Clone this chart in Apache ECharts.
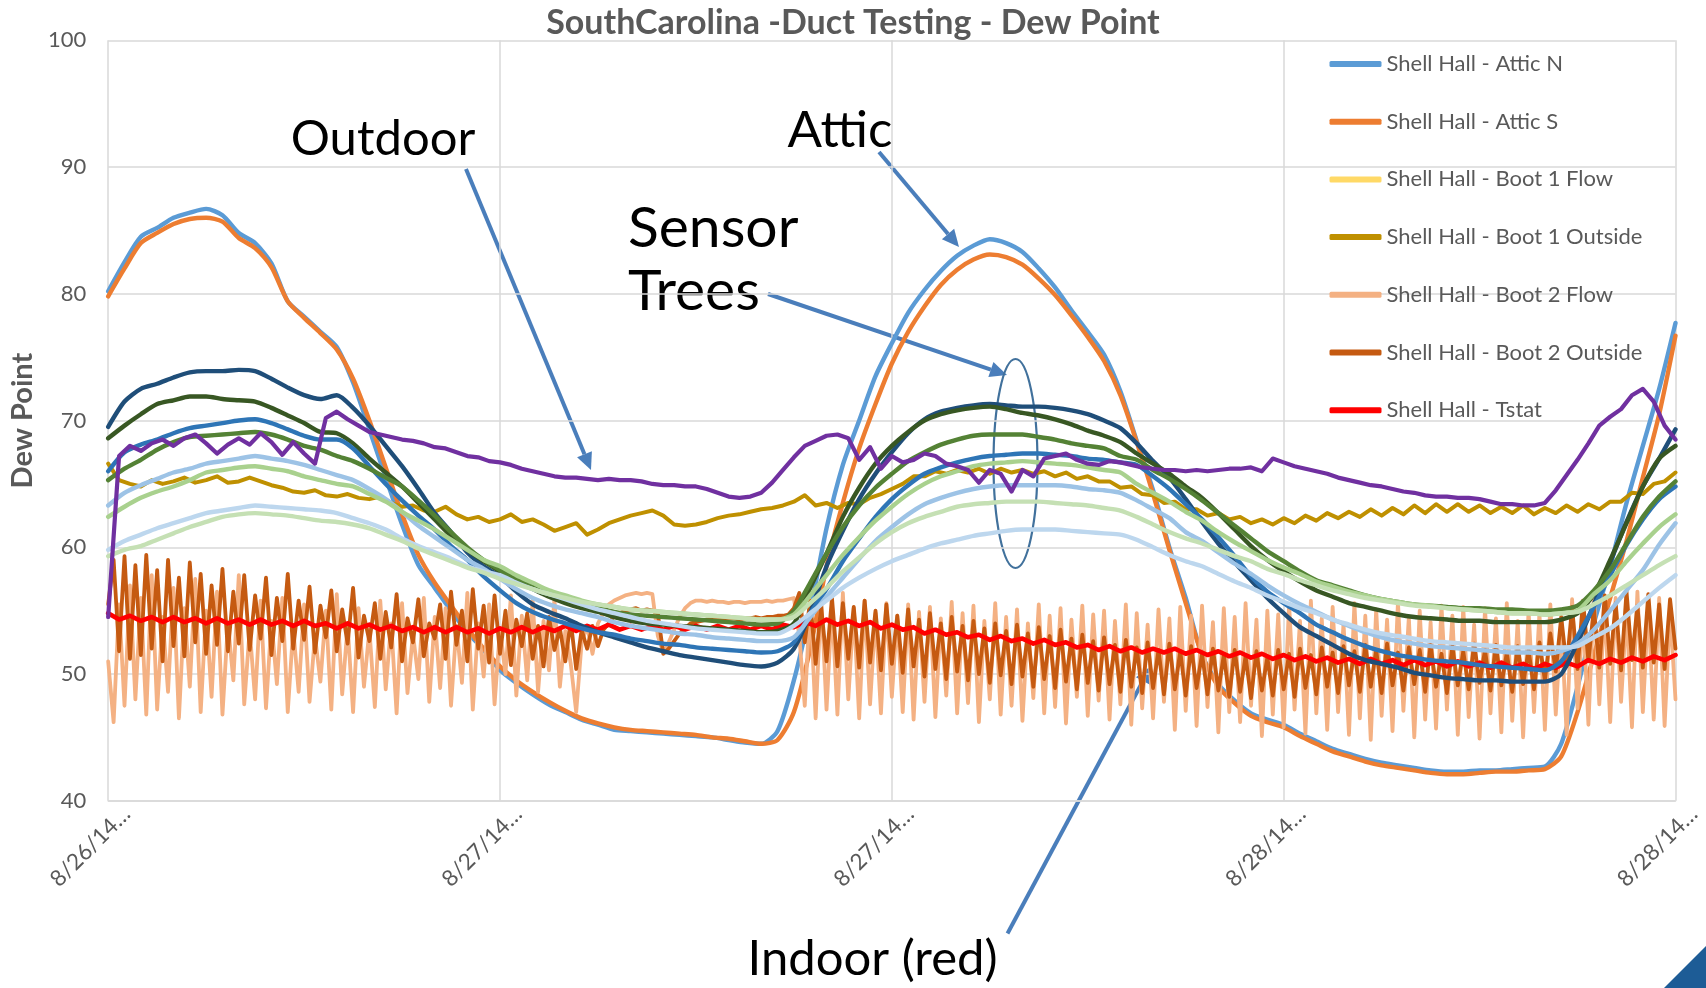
<!DOCTYPE html>
<html>
<head>
<meta charset="utf-8">
<script src="https://cdn.jsdelivr.net/npm/echarts@6/dist/echarts.min.js"></script>
<style>html,body{margin:0;padding:0;background:#fff}#c{width:1706px;height:988px}</style>
</head>
<body>
<div id="c"></div>
<script>
// ---------- DATA ----------
const chartTitle = 'SouthCarolina -Duct Testing - Dew Point';
const yAxisName = 'Dew Point';
const xTickLabels = ['8/26/14…', '8/27/14…', '8/27/14…', '8/28/14…', '8/28/14…'];
const legendNames = ['Shell Hall - Attic N', 'Shell Hall - Attic S', 'Shell Hall - Boot 1 Flow',
  'Shell Hall - Boot 1 Outside', 'Shell Hall - Boot 2 Flow', 'Shell Hall - Boot 2 Outside', 'Shell Hall - Tstat'];

// sampling steps (hours between readings) of each recorded series
const step30 = 0.5, step20 = 1 / 3, step10 = 1 / 6;

// Attic N / S (every 30 min)
const atticN = [80.2,82.5,84.5,85.2,86.0,86.4,86.7,86.2,84.8,84.0,
  82.4,79.4,78.2,77.0,75.8,73.0,69.3,65.5,61.8,58.6,
  56.8,55.0,53.3,51.9,50.3,49.3,48.4,47.6,47.0,46.4,
  46.0,45.6,45.5,45.4,45.3,45.2,45.1,45.0,44.8,44.6,
  44.5,45.5,49.5,55.0,61.5,66.5,70.0,73.5,76.1,78.5,
  80.3,81.8,83.0,83.8,84.3,84.0,83.3,82.0,80.5,78.7,
  77.0,75.2,72.3,68.4,64.5,60.0,56.0,51.5,49.2,47.9,
  46.9,46.4,46.0,45.3,44.7,44.1,43.7,43.3,43.0,42.8,
  42.6,42.4,42.3,42.3,42.4,42.4,42.5,42.6,42.7,44.5,
  49.0,54.0,58.5,63.5,68.0,72.5,77.7];
const atticS = [79.8,82.0,84.0,84.8,85.5,85.9,86.0,85.7,84.4,83.6,
  82.1,79.4,78.1,76.9,75.6,73.3,70.0,66.3,62.6,59.4,
  57.2,55.4,53.6,52.0,50.6,49.5,48.6,47.8,47.1,46.5,
  46.1,45.8,45.6,45.5,45.4,45.3,45.2,45.0,44.9,44.7,
  44.5,44.8,47.0,52.0,58.5,63.5,67.8,71.3,74.5,77.0,
  79.0,80.7,81.9,82.7,83.1,82.9,82.3,81.2,79.9,78.3,
  76.6,74.7,72.0,68.3,64.2,59.8,55.6,51.5,49.0,47.7,
  46.7,46.2,45.8,45.1,44.5,43.9,43.5,43.1,42.8,42.6,
  42.4,42.2,42.1,42.1,42.2,42.3,42.3,42.4,42.5,43.5,
  47.0,51.5,56.0,60.5,65.5,70.5,76.7];

// Boot 1 Flow: no trace visible in the chart
const boot1Flow = [];

// Boot 1 Outside (every 20 min)
const boot1Outside = [66.6,65.3,65.0, 64.8,65.3,65.0, 65.2,65.5,65.1, 65.3,65.6,65.1, 65.2,65.5,65.2,
  64.9,64.7,64.4, 64.3,64.5,64.1, 64.0,64.2,63.9, 63.8,64.0,63.5, 63.2,63.3,62.9,
  62.8,63.2,62.6, 62.2,62.4,62.0, 62.2,62.6,62.0, 62.2,61.8,61.3, 61.6,61.9,61.0,
  61.4,61.9,62.2, 62.5,62.7,62.9, 62.5,61.8,61.7, 61.8,62.0,62.3, 62.5,62.6,62.8,
  63.0,63.1,63.3, 63.6,64.1,63.3, 63.5,63.1,63.5, 63.4,63.9,64.2, 64.6,65.0,65.6,
  65.6,66.0,65.8, 66.1,65.9,66.2, 65.8,66.2,65.9, 66.1,65.8,66.0, 65.6,65.9,65.4,
  65.6,65.2,65.2, 64.7,64.8,64.2, 64.1,63.5,63.6, 63.0,63.0,62.5, 62.7,62.2,62.4,
  61.9,62.2,61.8, 62.3,61.9,62.5, 62.1,62.7,62.3, 62.8,62.4,63.0, 62.5,63.1,62.6,
  63.3,62.7,63.4, 62.8,63.4,62.8, 63.3,62.7,63.2, 62.7,63.3,62.6, 63.1,62.7,63.3,
  62.8,63.4,63.0, 63.6,63.6,64.3, 64.2,65.0,65.2, 65.9];

// Boot 2 Flow (every 10 min)
const boot2Flow = [51.0,46.2,55.5,47.5,57.0,48.0, 56.0,46.8,57.8,47.2,54.5,48.6,
  56.8,46.5,55.2,49.0,57.5,47.0, 55.0,48.2,56.5,46.8,54.0,49.5,
  57.8,47.6,53.5,48.0,55.8,47.3, 54.2,49.2,56.0,47.0,53.6,48.6,
  55.5,47.8,53.0,49.4,55.0,47.2, 56.3,48.4,53.8,47.0,55.2,49.0,
  53.5,47.4,55.8,48.8,54.0,46.9, 55.6,48.5,53.2,49.6,56.0,47.8,
  54.5,48.9,55.2,47.5,53.8,49.3, 56.4,47.2,54.0,49.8,55.5,47.6,
  53.6,50.0,56.2,48.3,54.6,49.5, 55.8,48.6,54.2,50.3,55.9,49.0,
  53.4,50.8,47.0,52.5,53.8,51.6, 54.0,54.8,55.5,55.8,56.0,56.2,
  56.3,56.4,56.3,56.4,56.3,53.0, 51.7,52.5,53.5,54.5,55.2,55.6,
  55.8,55.8,55.7,55.8,55.7,55.7, 55.6,55.7,55.7,55.6,55.7,55.7,
  55.7,55.8,55.7,55.8,55.8,55.9, 56.0,53.0,47.5,55.8,46.5,56.2,
  47.2,55.5,46.8,56.4,48.0,55.2, 46.5,55.8,47.6,54.8,46.9,55.6,
  48.2,54.6,47.0,55.5,46.4,54.9, 47.8,55.3,46.6,54.4,48.3,55.7,
  46.9,54.8,47.7,55.4,46.2,54.2, 48.0,55.6,46.8,54.5,47.5,55.1,
  46.3,54.0,48.1,55.5,46.9,54.6, 47.4,55.2,46.1,54.3,48.2,55.4,
  46.7,54.7,47.9,55.0,46.4,54.2, 47.6,55.5,46.0,54.8,47.3,53.9,
  46.5,55.1,47.8,54.4,45.6,55.3, 47.1,54.6,45.9,55.4,47.4,54.1,
  45.4,55.2,47.0,54.5,46.2,55.6, 47.5,54.3,45.1,55.0,46.8,54.7,
  45.8,55.5,47.2,54.2,45.3,55.8, 46.9,54.4,45.6,55.3,47.0,54.0,
  45.2,55.6,46.5,54.6,44.8,55.1, 46.7,54.3,45.5,55.7,47.1,54.5,
  45.0,55.0,46.4,54.1,45.7,55.4, 47.2,54.6,45.2,55.3,46.6,53.9,
  44.9,55.2,46.9,54.4,45.4,55.6, 46.3,54.2,45.0,55.0,47.0,54.8,
  45.6,55.5,46.8,54.3,45.2,55.9, 47.3,55.0,46.0,56.3,47.6,55.4,
  46.2,56.0,47.8,55.1,45.8,56.5, 47.0,55.3,46.4,56.0,45.9,55.0,
  48.0];

// Boot 2 Outside (every 10 min)
const boot2Outside = [55.5,59.0,51.8,59.3,51.2,58.6, 51.5,59.4,52.0,58.2,51.0,59.0,
  52.2,57.6,51.4,58.8,52.5,57.9, 51.6,57.0,52.3,58.3,51.8,56.5,
  52.4,57.8,51.9,56.2,52.8,57.6, 51.5,56.0,52.6,57.9,52.0,55.8,
  52.7,56.9,51.7,55.4,52.9,56.6, 51.8,55.1,52.4,56.8,51.3,54.6,
  52.6,55.6,51.2,54.9,52.1,56.3, 51.0,54.4,52.5,55.9,51.4,54.0,
  52.8,55.5,51.2,56.5,52.3,55.0, 51.0,56.7,52.0,55.4,50.9,56.2,
  51.6,55.0,50.7,54.3,52.2,54.8, 51.2,53.8,50.6,54.5,51.9,53.6,
  51.0,54.2,50.4,53.5,52.0,53.8, 52.2,53.5,54.0,54.6,54.8,55.0,
  55.1,55.2,55.0,55.1,55.0,54.8, 51.6,52.0,52.6,53.2,53.6,54.0,
  54.1,54.2,54.3,54.3,54.4,54.3, 54.4,54.4,54.3,54.4,54.4,54.5,
  54.4,54.5,54.5,54.6,54.6,54.7, 55.2,56.4,52.5,55.8,50.8,55.4,
  51.0,56.0,50.6,55.6,51.2,55.3, 50.5,55.8,50.9,55.0,50.3,55.5,
  50.8,54.6,50.1,55.1,50.6,54.3, 49.8,54.8,50.4,54.0,49.6,54.5,
  50.2,53.8,49.5,54.2,50.0,53.6, 49.3,54.0,49.9,53.4,49.2,53.9,
  49.8,53.2,49.0,53.7,49.6,53.0, 48.9,53.5,49.4,52.8,48.8,53.1,
  49.3,52.6,48.7,52.9,49.2,52.3, 48.6,52.7,49.0,52.1,48.5,52.5,
  48.9,51.9,48.4,52.4,48.8,51.8, 48.3,52.2,48.9,51.6,48.4,52.0,
  48.7,51.5,48.2,51.9,48.6,51.4, 48.1,51.8,48.7,51.3,48.3,51.9,
  48.8,51.6,48.2,52.0,48.9,51.5, 48.4,52.1,49.0,51.7,48.5,52.2,
  49.1,51.8,48.6,52.3,49.0,51.9, 48.5,52.4,49.1,51.7,48.7,52.1,
  49.2,51.9,48.6,52.3,49.0,51.6, 48.5,52.2,49.1,51.8,48.8,52.4,
  49.3,51.9,48.7,52.3,49.1,51.7, 48.6,52.2,49.2,51.9,48.8,52.5,
  49.5,53.2,50.2,54.5,50.6,55.3, 50.4,55.8,51.0,55.2,50.5,56.2,
  50.8,55.6,50.3,56.5,51.1,55.4, 50.5,56.3,50.9,55.5,50.4,55.9,
  52.0];

// Tstat (every 20 min)
const tstat = [54.8,54.3,54.6, 54.2,54.5,54.1, 54.5,54.1,54.4, 54.0,54.4,54.0, 54.3,53.9,54.3,
  53.9,54.2,53.8, 54.2,53.8,54.0, 53.6,54.0,53.6, 53.9,53.5,53.8, 53.4,53.7,53.3,
  53.7,53.3,53.7, 53.3,53.6,53.2, 53.6,53.3,53.7, 53.3,53.7,53.4, 53.8,53.4,53.8,
  53.5,53.9,53.5, 53.8,53.5,53.8, 53.5,53.8,53.5, 53.8,53.5,53.8, 53.5,53.8,53.5,
  53.8,53.5,53.9, 53.7,54.1,53.8, 54.3,53.9,54.2, 53.8,54.1,53.6, 53.9,53.5,53.7,
  53.2,53.5,53.1, 53.3,52.9,53.1, 52.7,53.0,52.6, 52.8,52.4,52.7, 52.3,52.5,52.1,
  52.3,51.9,52.2, 51.8,52.1,51.7, 52.0,51.7,52.0, 51.6,51.9,51.5, 51.8,51.4,51.7,
  51.3,51.6,51.2, 51.5,51.1,51.4, 51.0,51.3,50.9, 51.2,50.8,51.2, 50.8,51.1,50.7,
  51.1,50.7,51.0, 50.6,51.0,50.6, 50.9,50.5,50.9, 50.5,50.8,50.4, 50.8,50.5,50.9,
  50.6,51.1,50.8, 51.2,50.9,51.3, 51.0,51.4,51.1, 51.5];

// Outdoor (every 20 min)
const outdoor = [54.5,67.2,68.0, 67.6,68.2,68.5, 68.0,68.6,68.9, 68.2,67.4,68.1, 68.6,68.1,69.0,
  68.3,67.3,68.3, 67.4,66.6,70.2, 70.7,70.1,69.6, 69.1,68.9,68.7, 68.5,68.4,68.2,
  67.9,67.8,67.5, 67.2,67.1,66.8, 66.7,66.5,66.2, 66.0,65.8,65.6, 65.5,65.5,65.4,
  65.3,65.4,65.3, 65.3,65.2,65.0, 64.9,64.9,64.8, 64.8,64.6,64.3, 64.0,63.9,64.0,
  64.3,65.1,66.1, 67.1,68.0,68.4, 68.8,68.9,68.6, 66.9,67.9,66.2, 67.2,66.7,66.9,
  67.4,67.2,66.6, 66.4,66.1,65.1, 66.1,65.8,64.4, 66.1,65.6,67.0, 67.2,67.4,66.9,
  66.6,66.5,66.8, 66.7,66.5,66.3, 66.2,66.1,66.1, 66.0,66.1,66.0, 66.1,66.2,66.2,
  66.3,66.0,67.0, 66.7,66.4,66.2, 66.0,65.8,65.5, 65.3,65.1,64.9, 64.8,64.6,64.4,
  64.3,64.1,64.0, 64.0,63.9,63.9, 63.8,63.6,63.4, 63.4,63.3,63.3, 63.5,64.5,65.7,
  66.9,68.2,69.6, 70.3,70.9,72.0, 72.5,71.5,69.6, 68.5];

// Sensor tree channels (every 30 min)
const treeNavy = [69.5,71.5,72.5,72.9,73.4,73.8,73.9,73.9,74.0,73.9,
  73.3,72.6,72.0,71.7,72.0,71.0,69.6,68.0,66.4,64.6,
  62.7,61.2,59.6,58.5,57.7,56.5,55.5,54.9,54.4,53.8,
  53.3,52.9,52.5,52.1,51.8,51.5,51.3,51.1,50.9,50.7,
  50.6,50.9,52.0,54.8,58.5,61.3,63.8,65.8,67.5,69.0,
  70.1,70.7,71.0,71.2,71.3,71.2,71.1,71.1,71.0,70.8,
  70.5,70.0,69.4,68.2,66.8,65.5,63.8,62.0,60.3,58.8,
  57.4,56.0,54.8,53.7,53.0,52.3,51.6,51.1,50.8,50.5,
  50.1,49.9,49.7,49.6,49.5,49.5,49.4,49.4,49.4,50.0,
  52.5,55.5,58.8,62.0,64.8,67.0,69.3];
const treeDarkGreen = [68.6,69.6,70.5,71.3,71.6,71.9,71.9,71.7,71.6,71.5,
  71.0,70.4,69.8,69.1,69.0,68.2,67.0,65.9,64.8,63.5,
  62.2,60.9,59.8,58.9,58.1,57.3,56.7,56.1,55.6,55.2,
  54.9,54.5,54.2,54.0,53.9,53.8,53.7,53.6,53.5,53.4,
  53.3,53.4,54.0,56.8,59.5,62.4,64.7,66.6,68.0,69.1,
  70.0,70.5,70.8,71.0,71.1,70.9,70.6,70.4,70.1,69.7,
  69.2,68.8,68.3,67.4,66.6,65.8,64.8,63.9,62.7,61.4,
  60.1,59.0,58.1,57.3,56.6,56.1,55.6,55.3,55.0,54.7,
  54.5,54.4,54.3,54.2,54.2,54.1,54.1,54.1,54.1,54.3,
  54.8,56.3,59.0,61.9,64.8,67.0,68.0];
const treeBlue = [66.0,67.5,68.1,68.5,69.0,69.4,69.6,69.8,70.0,70.1,
  69.8,69.3,68.8,68.5,68.5,67.8,66.4,65.0,63.7,62.5,
  61.4,60.1,59.0,57.7,56.6,55.6,54.9,54.4,54.0,53.6,
  53.3,53.1,52.8,52.6,52.4,52.3,52.1,52.0,51.9,51.8,
  51.7,51.8,52.5,54.8,56.7,58.9,60.7,62.4,63.8,64.9,
  65.8,66.3,66.7,67.0,67.2,67.3,67.4,67.4,67.3,67.2,
  67.0,66.9,66.7,66.5,65.6,64.6,63.4,62.2,60.8,59.3,
  57.7,56.5,55.6,54.8,53.9,53.3,52.7,52.2,51.8,51.5,
  51.3,51.1,51.0,50.9,50.7,50.6,50.5,50.4,50.3,51.0,
  53.0,55.3,57.8,60.2,62.2,63.8,64.8];
const treeGreen = [65.3,66.2,66.9,67.7,68.3,68.7,68.8,68.9,69.0,69.1,
  68.9,68.5,68.0,67.7,67.2,66.8,66.2,65.5,64.8,63.7,
  62.5,61.2,60.0,59.0,58.2,57.5,56.9,56.4,55.9,55.5,
  55.2,54.9,54.7,54.6,54.5,54.4,54.3,54.2,54.1,54.0,
  53.9,54.0,55.0,57.2,59.5,61.6,63.3,64.7,65.8,66.8,
  67.5,68.1,68.5,68.8,68.9,68.9,68.9,68.7,68.5,68.2,
  68.0,67.8,67.2,66.9,66.1,65.4,64.6,63.7,62.7,61.7,
  60.7,59.7,58.9,58.1,57.4,57.0,56.6,56.2,55.9,55.7,
  55.5,55.4,55.3,55.2,55.2,55.1,55.1,55.0,55.0,55.1,
  55.4,56.6,58.2,60.3,62.4,64.0,65.2];
const treeLightBlue = [63.3,64.3,64.9,65.4,65.9,66.2,66.6,66.8,67.0,67.2,
  67.0,66.8,66.5,66.1,65.7,65.3,64.6,63.8,62.8,61.7,
  60.8,59.9,59.0,58.3,57.5,56.7,56.0,55.5,55.1,54.8,
  54.5,54.1,53.8,53.6,53.4,53.2,53.1,52.9,52.8,52.7,
  52.6,52.6,52.9,54.5,56.1,57.6,59.1,60.5,61.6,62.6,
  63.4,63.9,64.3,64.6,64.8,64.9,64.9,64.9,64.9,64.8,
  64.6,64.5,64.3,63.7,63.0,62.3,61.2,60.5,59.6,58.7,
  57.9,57.0,56.2,55.5,54.9,54.3,53.8,53.3,52.9,52.6,
  52.4,52.2,52.1,52.0,51.9,51.8,51.7,51.7,51.6,51.8,
  52.4,53.5,55.0,56.6,58.2,60.2,61.9];
const treeLightGreen = [62.4,63.2,63.9,64.4,64.8,65.3,65.9,66.1,66.3,66.4,
  66.2,66.0,65.6,65.3,65.0,64.8,64.2,63.6,62.8,62.1,
  61.4,60.6,59.8,59.0,58.5,57.8,57.2,56.6,56.2,55.8,
  55.5,55.3,55.1,55.0,54.9,54.8,54.7,54.6,54.5,54.4,
  54.3,54.3,54.7,56.2,57.8,59.4,60.8,62.1,63.2,64.2,
  65.0,65.6,66.0,66.4,66.6,66.7,66.8,66.7,66.6,66.5,
  66.3,66.1,65.9,65.0,64.3,63.6,62.8,62.1,61.2,60.4,
  59.7,59.0,58.4,57.9,57.3,56.9,56.5,56.2,55.9,55.7,
  55.5,55.4,55.2,55.1,55.0,54.9,54.8,54.8,54.7,54.8,
  55.0,56.3,57.4,58.9,60.3,61.6,62.6];
const treePaleBlue = [59.8,60.5,61.0,61.5,61.9,62.3,62.7,62.9,63.1,63.3,
  63.2,63.1,63.0,62.9,62.7,62.3,61.9,61.4,60.7,60.1,
  59.6,59.1,58.5,58.1,57.8,57.2,56.7,56.3,55.9,55.5,
  55.1,54.8,54.5,54.2,54.0,53.8,53.6,53.5,53.4,53.3,
  53.2,53.2,53.8,54.8,55.8,56.8,57.6,58.3,58.9,59.4,
  59.9,60.3,60.6,60.9,61.1,61.3,61.4,61.4,61.4,61.3,
  61.2,61.1,61.0,60.6,60.0,59.4,58.9,58.5,57.9,57.3,
  56.8,56.2,55.7,55.2,54.8,54.3,53.9,53.5,53.2,53.0,
  52.8,52.6,52.5,52.4,52.3,52.2,52.1,52.1,52.1,52.1,
  52.2,52.9,53.6,54.6,55.7,56.8,57.8];
const treePaleGreen = [59.3,59.8,60.1,60.6,61.1,61.6,62.0,62.4,62.6,62.7,
  62.6,62.5,62.3,62.1,62.0,61.8,61.5,61.0,60.5,59.9,
  59.4,58.9,58.4,58.0,57.5,57.1,56.7,56.3,56.0,55.7,
  55.5,55.3,55.1,55.0,54.9,54.8,54.7,54.6,54.5,54.4,
  54.3,54.3,54.5,55.6,56.8,58.1,59.2,60.3,61.2,61.9,
  62.4,62.8,63.2,63.4,63.5,63.6,63.6,63.6,63.5,63.4,
  63.3,63.1,62.9,62.4,61.8,61.2,60.7,60.3,59.8,59.3,
  58.9,58.3,57.9,57.4,57.0,56.6,56.3,56.0,55.8,55.6,
  55.4,55.3,55.2,55.1,55.0,54.9,54.8,54.8,54.7,54.8,
  54.9,55.5,56.2,57.0,57.8,58.6,59.3];

// annotation texts
const noteOutdoor = 'Outdoor', noteAttic = 'Attic', noteSensor = 'Sensor\nTrees', noteIndoor = 'Indoor (red)';

// ---------- BUILD ----------
function pairs(arr, step) { return arr.map((v, i) => [i * step, v]); }
const FONT = 'Lato, "Open Sans", sans-serif';

const defs = [
  { name: legendNames[0], data: atticN, step: step30, color: '#5B9BD5', w: 4.4, smooth: 0.25 },
  { name: legendNames[1], data: atticS, step: step30, color: '#ED7D31', w: 4.4, smooth: 0.25 },
  { name: legendNames[2], data: boot1Flow, step: step30, color: '#FFD966', w: 4.4 },
  { name: legendNames[3], data: boot1Outside, step: step20, color: '#BF9000', w: 4.0 },
  { name: legendNames[4], data: boot2Flow, step: step10, color: '#F4B183', w: 3.8 },
  { name: legendNames[5], data: boot2Outside, step: step10, color: '#C55A11', w: 3.8 },
  { name: legendNames[6], data: tstat, step: step20, color: '#FF0000', w: 4.6 },
  { name: 'Shell Hall - Tree 1', data: treeNavy, step: step30, color: '#1F4E79', w: 4.4, smooth: 0.25 },
  { name: 'Shell Hall - Tree 2', data: treeDarkGreen, step: step30, color: '#385723', w: 4.4, smooth: 0.25 },
  { name: 'Shell Hall - Tree 3', data: treeBlue, step: step30, color: '#2E75B6', w: 4.4, smooth: 0.25 },
  { name: 'Shell Hall - Tree 4', data: treeGreen, step: step30, color: '#548235', w: 4.4, smooth: 0.25 },
  { name: 'Shell Hall - Tree 5', data: treeLightBlue, step: step30, color: '#9DC3E6', w: 4.4, smooth: 0.25 },
  { name: 'Shell Hall - Tree 6', data: treeLightGreen, step: step30, color: '#A9D18E', w: 4.4, smooth: 0.25 },
  { name: 'Shell Hall - Tree 7', data: treePaleBlue, step: step30, color: '#BDD7EE', w: 4.4, smooth: 0.25 },
  { name: 'Shell Hall - Tree 8', data: treePaleGreen, step: step30, color: '#C5E0B4', w: 4.4, smooth: 0.25 },
  { name: 'Shell Hall - Outdoor', data: outdoor, step: step20, color: '#7030A0', w: 4.2 }
];

const series = defs.map(d => ({
  type: 'line', name: d.name, data: pairs(d.data, d.step),
  showSymbol: false, symbol: 'none', smooth: d.smooth || false,
  color: d.color, lineStyle: { color: d.color, width: d.w, cap: 'round', join: 'round' },
  emphasis: { disabled: true }, animation: false
}));

const arrowColor = '#4A7EBB';
function arrow(x1, y1, x2, y2) {
  const a = Math.atan2(y2 - y1, x2 - x1), L = 17, W = 8;
  const bx = x2 - L * Math.cos(a), by = y2 - L * Math.sin(a);
  const px = -Math.sin(a) * W, py = Math.cos(a) * W;
  return [
    { type: 'line', shape: { x1, y1, x2: bx, y2: by }, style: { stroke: arrowColor, lineWidth: 4 } },
    { type: 'polygon', shape: { points: [[x2, y2], [bx + px, by + py], [bx - px, by - py]] }, style: { fill: arrowColor } }
  ];
}
function note(text, x, y, size, align, lh) {
  return { type: 'text', x, y, style: { text, font: size + 'px ' + FONT, fill: '#000', align: align || 'center', verticalAlign: 'middle', textAlign: align || 'center', textVerticalAlign: 'middle', lineHeight: lh || size } };
}

const chart = echarts.init(document.getElementById('c'), null, { renderer: 'canvas' });
chart.setOption({
  backgroundColor: '#fff',
  animation: false,
  title: { text: chartTitle, left: 'center', top: 1, textStyle: { fontFamily: FONT, fontWeight: 'bold', fontSize: 34, color: '#595959' } },
  grid: { left: 107.7, right: 30.5, top: 40.3, bottom: 187.2 },
  legend: {
    data: legendNames, orient: 'vertical', left: 1329.5, top: 53, padding: 0,
    icon: 'roundRect', itemWidth: 52, itemHeight: 6, itemGap: 35.7,
    textStyle: { fontFamily: FONT, fontSize: 22, color: '#595959', lineHeight: 22 },
    selectedMode: false
  },
  xAxis: {
    type: 'value', min: 0, max: 48, interval: 12,
    axisLine: { show: true, lineStyle: { color: '#D9D9D9', width: 1.5 } },
    axisTick: { show: false },
    splitLine: { show: true, lineStyle: { color: '#D9D9D9', width: 1.5 } },
    axisLabel: { rotate: 45, margin: 28, padding: [0, -26, 0, 0], fontFamily: FONT, fontSize: 22.5, color: '#595959',
      formatter: v => xTickLabels[Math.round(v / 12)] }
  },
  yAxis: {
    type: 'value', min: 40, max: 100, interval: 10,
    name: yAxisName, nameLocation: 'middle', nameRotate: 90, nameGap: 70,
    nameTextStyle: { fontFamily: FONT, fontWeight: 'bold', fontSize: 29, color: '#595959' },
    axisLine: { show: false }, axisTick: { show: false },
    splitLine: { show: true, lineStyle: { color: '#D9D9D9', width: 1.5 } },
    axisLabel: { margin: 22, fontFamily: FONT, fontSize: 22, color: '#595959' }
  },
  series,
  graphic: { elements: [
    note(noteOutdoor, 383, 139, 49),
    ...arrow(466, 169, 591, 470),
    note(noteAttic, 840, 131, 51),
    ...arrow(879, 152, 959, 247),
    note(noteSensor, 628, 260, 57, 'left', 63),
    ...arrow(768, 294, 1007, 375),
    { type: 'ellipse', shape: { cx: 1015.5, cy: 463.5, rx: 22, ry: 104.5 }, style: { fill: 'none', stroke: '#41719C', lineWidth: 2.2 } },
    note(noteIndoor, 872.6, 959.6, 49),
    ...arrow(1007.5, 933.5, 1151, 666),
    { type: 'polygon', shape: { points: [[1706, 946], [1706, 988], [1664, 988]] }, style: { fill: '#1D5C96' } }
  ] }
});
</script>
</body>
</html>
